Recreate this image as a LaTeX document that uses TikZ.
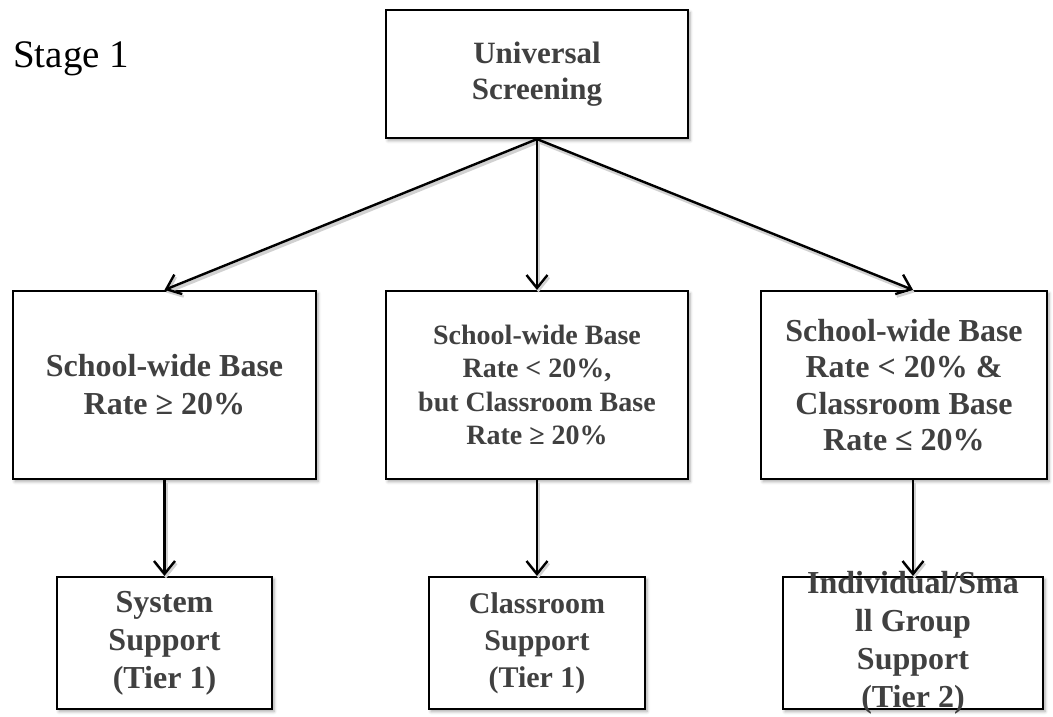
\documentclass[tikz,border=0pt]{standalone}
\usepackage{fontspec}
\setmainfont{Liberation Serif}
\usetikzlibrary{arrows.meta,shadows.blur}
\definecolor{txtgray}{HTML}{404040}
\begin{document}
\begin{tikzpicture}[x=1pt,y=-1pt,
  box/.style={draw=black, line width=2.2pt, fill=white, inner sep=0pt,
    blur shadow={shadow xshift=2pt, shadow yshift=-2.5pt, shadow blur radius=3pt, shadow opacity=35}},
  lbl/.style={text=txtgray, align=center, inner sep=0pt},
  boxtext/.style 2 args={label={[lbl,font=#1]center:{#2}}},
  arr/.style={line width=2.4pt, -{Straight Barb[length=13pt,width=21pt,line width=2.4pt]},
    preaction={draw=black!18, line width=3.5pt, transform canvas={xshift=1.5pt,yshift=-2.5pt}}},
  ]
\useasboundingbox (0,0) rectangle (1053,716);

% title
\node[anchor=base west, inner sep=0pt, font=\fontsize{39}{44}\selectfont] (stage) at (13,67) {Stage 1};

% top box
\node[box, minimum width=302pt, minimum height=128pt,
  boxtext={\fontsize{31}{36}\selectfont\bfseries}{Universal\\Screening}] (top) at (537,74) {};

% decision boxes
\node[box, minimum width=303pt, minimum height=188pt,
  boxtext={\fontsize{32}{38}\selectfont\bfseries}{School-wide Base\\Rate ≥ 20\%}] (m1) at (164.5,385) {};
\node[box, minimum width=302pt, minimum height=188pt,
  boxtext={\fontsize{28}{33.5}\selectfont\bfseries}{School-wide Base\\Rate < 20\%,\\but Classroom Base\\Rate ≥ 20\%}] (m2) at (537,385) {};
\node[box, minimum width=286pt, minimum height=188pt,
  boxtext={\fontsize{32}{36.5}\selectfont\bfseries}{School-wide Base\\Rate < 20\% \&\\Classroom Base\\Rate ≤ 20\%}] (m3) at (904,385) {};

% support boxes
\node[box, minimum width=215pt, minimum height=132pt,
  boxtext={\fontsize{32}{38}\selectfont\bfseries}{System\\Support\\(Tier 1)}] (b1) at (164.5,643) {};
\node[box, minimum width=216pt, minimum height=132pt,
  boxtext={\fontsize{30}{37}\selectfont\bfseries}{Classroom\\Support\\(Tier 1)}] (b2) at (537,643) {};
\node[box, minimum width=260pt, minimum height=132pt,
  boxtext={\fontsize{32}{38}\selectfont\bfseries}{Individual/Sma\\ll Group\\Support\\(Tier 2)}] (b3) at (913,643) {};

% connectors
\draw[arr] (top.south) -- (m1.north);
\draw[arr] (top.south) -- (m2.north);
\draw[arr] (top.south) -- (b3.north |- m3.north);
\draw[arr] (m1.south) -- (b1.north);
\draw[arr] (m2.south) -- (b2.north);
\draw[arr] (b3.north |- m3.south) -- (b3.north);
\end{tikzpicture}
\end{document}
